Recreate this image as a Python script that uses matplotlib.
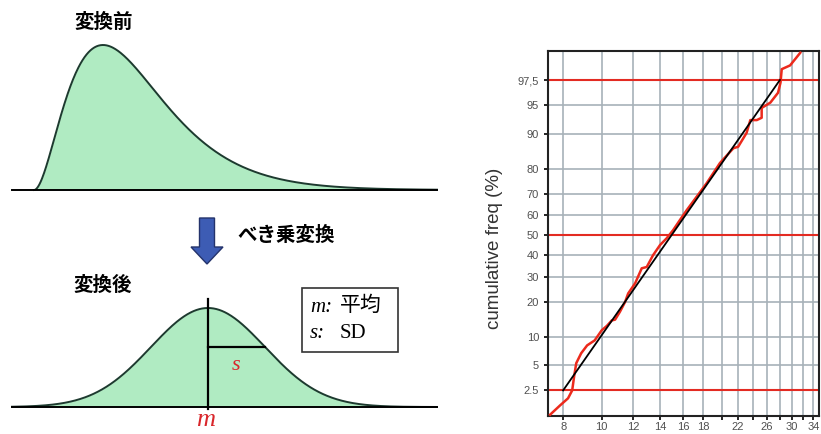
import math
import numpy as np
import matplotlib
matplotlib.use('Agg')
import matplotlib.pyplot as plt
from matplotlib.patches import FancyArrow, Rectangle

plt.rcParams['font.family'] = ['Noto Sans CJK JP', 'DejaVu Sans']

# 正規確率紙にプロットする累積度数（%）
ecdf_x = [7.42, 7.86, 8.23, 8.43, 8.53, 8.63, 8.88, 9.19, 9.6, 10.0, 10.3, 10.6, 10.8,
          11.1, 11.44, 11.65, 12.13, 12.6, 12.97, 13.45, 14.0, 14.56, 15.1, 15.7,
          16.34, 17.3, 18.35, 19.8, 21.4, 22.0, 23.1, 23.6, 24.5, 25.2, 25.2, 26.5,
          27.7, 28.1, 28.3, 29.7, 31.5]
ecdf_p = [1.17, 1.58, 1.97, 2.5, 3.8, 5.3, 6.8, 8.2, 9.2, 11.5, 12.6, 14.1, 14.3,
          16.6, 19.9, 23.1, 27.2, 33.8, 34.4, 40.0, 45.0, 48.5, 52.5, 57.5,
          62.4, 68.6, 74.5, 81.9, 86.4, 86.8, 90.2, 92.7, 92.7, 93.1, 94.6, 95.3,
          96.4, 97.3, 98.2, 98.4, 98.94]

# 当てはめた対数正規分布の直線（2.5% 点と 97.5% 点）
fit_x = [8, 28]
fit_p = [2.5, 97.5]

ref_p = [2.5, 50, 97.5]
y_ticks = [2.5, 5, 10, 20, 30, 40, 50, 60, 70, 80, 90, 95, 97.5]
y_labels = ['2.5', '5', '10', '20', '30', '40', '50', '60', '70', '80', '90', '95', '97,5']
x_ticks = [8, 10, 12, 14, 16, 18, 20, 22, 24, 26, 28, 30, 32, 34]
x_labeled = [8, 10, 12, 14, 16, 18, 22, 26, 30, 34]

# 模式図の分布パラメータ（図の座標単位）
before_start, before_shape, before_scale, before_height = 34, 3, 34.5, 145
after_mean, after_sd, after_height = 208, 57, 99

# 正規分布の累積関数とその逆関数（表引き）
_z = np.linspace(-6, 6, 6001)
_cdf = 0.5 * (1 + np.vectorize(math.erf)(_z / math.sqrt(2)))


def probit(p):
    return np.interp(np.asarray(p, dtype=float) / 100.0, _cdf, _z)


def inv_probit(z):
    return 100.0 * np.interp(np.asarray(z, dtype=float), _z, _cdf)


fig = plt.figure(figsize=(8.21, 4.34), dpi=100)

# 左側の模式図
ax0 = fig.add_axes([0, 0, 1, 1])
ax0.set_xlim(0, 821)
ax0.set_ylim(434, 0)
ax0.axis('off')

green = '#b0ebc2'
edge = '#1d3a2f'

# 変換前：右に裾を引く分布
base1 = 190
xs = np.linspace(before_start, 437, 600)
t = (xs - before_start) / before_scale
dens = t ** (before_shape - 1) * np.exp(-t)
dens = dens / dens.max() * before_height
ax0.fill_between(xs, base1, base1 - dens, color=green, lw=0)
ax0.plot(xs, base1 - dens, color=edge, lw=1.4)
ax0.plot([12, 437], [base1, base1], color='black', lw=1.4)
ax0.text(104, 22, '変換前', ha='center', va='center', fontsize=14, fontweight='bold')

# べき乗変換の矢印
ax0.add_patch(FancyArrow(207, 218, 0, 46, width=15, head_width=32, head_length=17,
                         length_includes_head=True, fc='#3d5cb4', ec='#24336b', lw=1))
ax0.text(237, 235, 'べき乗変換', ha='left', va='center', fontsize=14, fontweight='bold')

# 変換後：正規分布
base2 = 407
xs = np.linspace(12, 437, 600)
dens = after_height * np.exp(-0.5 * ((xs - after_mean) / after_sd) ** 2)
ax0.fill_between(xs, base2, base2 - dens, color=green, lw=0)
ax0.plot(xs, base2 - dens, color=edge, lw=1.4)
ax0.plot([12, 437], [base2, base2], color='black', lw=1.4)
ax0.plot([after_mean, after_mean], [299, 409], color='black', lw=1.6)
sd_y = base2 - after_height * math.exp(-0.5)
ax0.plot([after_mean, after_mean + after_sd], [sd_y, sd_y], color='black', lw=1.6)
ax0.text(after_mean + after_sd / 2, 366, 's', ha='center', va='center', fontsize=16,
         color='#d9262b', family='Liberation Serif', style='italic')
ax0.text(after_mean - 2, 420, 'm', ha='center', va='center', fontsize=19,
         color='#d9262b', family='Liberation Serif', style='italic')
ax0.text(103, 285, '変換後', ha='center', va='center', fontsize=14, fontweight='bold')

# 凡例の枠
ax0.add_patch(Rectangle((302, 288), 96, 64, fill=False, ec='#333333', lw=1.2))
ax0.text(310, 307, 'm:', ha='left', va='center', fontsize=15,
         family='Liberation Serif', style='italic')
ax0.text(340, 305, '平均', ha='left', va='center', fontsize=15)
ax0.text(310, 334, 's:', ha='left', va='center', fontsize=15,
         family='Liberation Serif', style='italic')
ax0.text(340, 334, 'SD', ha='left', va='center', fontsize=15, family='Liberation Serif')

# 右側の正規確率プロット
ax = fig.add_axes([548 / 821, 18 / 434, 271 / 821, 365 / 434])
ax.set_xscale('log')
ax.set_yscale('function', functions=(probit, inv_probit))
ax.set_xlim(7.33, 35.1)
ax.set_ylim(1.12, 99.0)

grid_c = '#a7b1b9'
for xv in x_ticks:
    ax.axvline(xv, color=grid_c, lw=1.2, zorder=1)
for yv in y_ticks:
    if yv not in ref_p:
        ax.axhline(yv, color=grid_c, lw=1.2, zorder=1)
for yv in ref_p:
    ax.axhline(yv, color='#e32b22', lw=1.5, zorder=2)

ax.plot(fit_x, fit_p, color='black', lw=1.3, zorder=4)
ax.plot(ecdf_x, ecdf_p, color='#ec2a1c', lw=1.8, zorder=3, clip_on=False)

ax.xaxis.set_minor_locator(matplotlib.ticker.NullLocator())
ax.yaxis.set_minor_locator(matplotlib.ticker.NullLocator())
ax.set_xticks(x_ticks)
ax.set_xticklabels([str(v) if v in x_labeled else '' for v in x_ticks],
                   family='Liberation Sans')
ax.set_yticks(y_ticks)
ax.set_yticklabels(y_labels, family='Liberation Sans')
ax.tick_params(axis='both', direction='out', length=3, width=1.2, color='black',
               labelsize=8, labelcolor='#505050', pad=1.5)
ax.tick_params(axis='y', pad=3.5)
for s in ax.spines.values():
    s.set_linewidth(1.5)
    s.set_color('#222222')

ax.set_ylabel('cumulative freq (%)', fontsize=13.5, color='#333333',
              family='Liberation Sans')
ax.yaxis.set_label_coords(-0.166, 0.46)

fig.savefig('out.png', dpi=100)
